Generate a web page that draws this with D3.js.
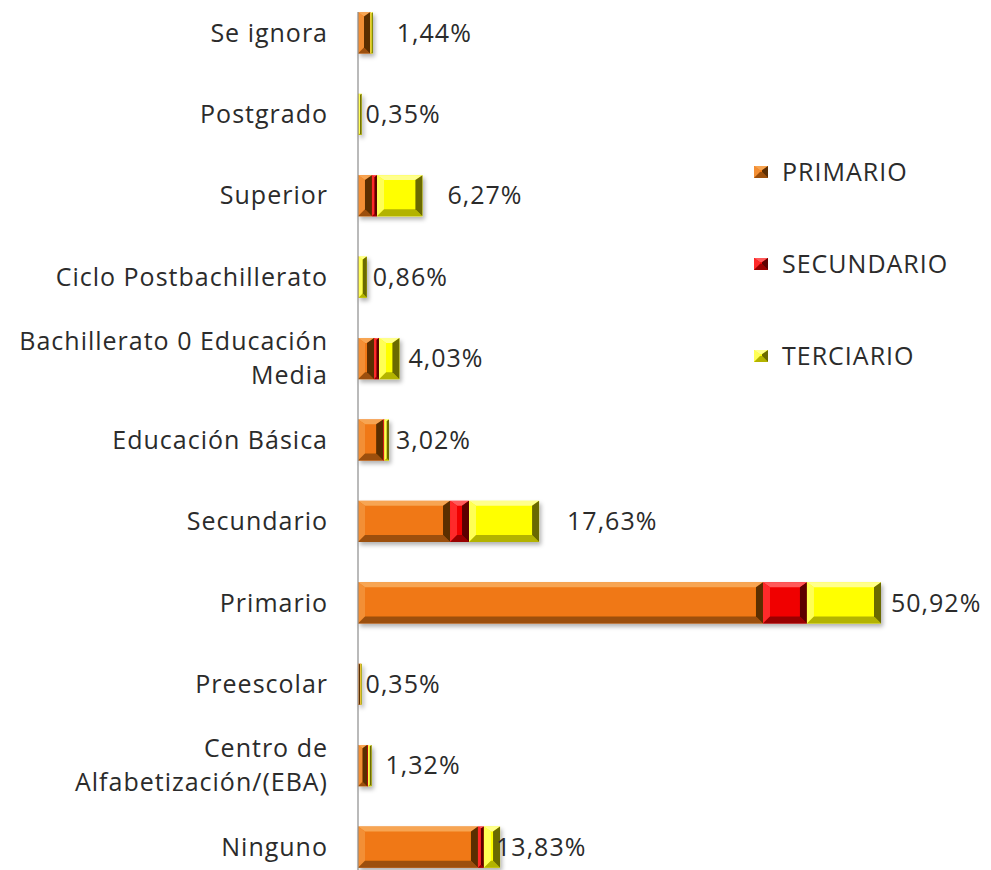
<!DOCTYPE html>
<html>
<head>
<meta charset="utf-8">
<script src="https://cdn.jsdelivr.net/npm/d3@7"></script>
<style>
  body { margin: 0; background: #fff; }
  svg text { font-family: "Open Sans", sans-serif; fill: #2b2b2b; font-size: 25px; letter-spacing: 1px; }
</style>
</head>
<body>
<svg id="chart" width="991" height="870"></svg>
<script>
// data, top row first
var categories = ["Se ignora", "Postgrado", "Superior", "Ciclo Postbachillerato",
  "Bachillerato 0 Educación|Media", "Educación Básica", "Secundario", "Primario",
  "Preescolar", "Centro de|Alfabetización/(EBA)", "Ninguno"];
var primario   = [1.17, 0.05, 1.36, 0.06, 1.56, 2.45, 8.96, 39.43, 0.20, 0.88, 11.68];
var secundario = [0.05, 0.00, 0.49, 0.00, 0.49, 0.12, 1.85, 4.28, 0.05, 0.10, 0.58];
var terciario  = [0.22, 0.30, 4.42, 0.80, 1.98, 0.45, 6.82, 7.21, 0.10, 0.34, 1.57];
var totals     = [1.44, 0.35, 6.27, 0.86, 4.03, 3.02, 17.63, 50.92, 0.35, 1.32, 13.83];
var seriesNames = ["PRIMARIO", "SECUNDARIO", "TERCIARIO"];
// label x nudges (px after bar end), as placed in the original
var labelNudge = [24, 4, 25, 6, 9, 7, 28, 10, 4, 14, -4];

var colors = {
  PRIMARIO:   {face: "#f07812", top: "#f7a552", left: "#f38f34", bottom: "#9c4f0a", right: "#5a2e04"},
  SECUNDARIO: {face: "#f00000", top: "#ff5a5a", left: "#ff2a2a", bottom: "#990000", right: "#5c0000"},
  TERCIARIO:  {face: "#ffff00", top: "#ffff8c", left: "#ffff55", bottom: "#b3b300", right: "#6b6b00"}
};

var rows = categories.map(function(c, i) {
  return {cat: c, PRIMARIO: primario[i], SECUNDARIO: secundario[i], TERCIARIO: terciario[i], total: totals[i], i: i};
});

var svg = d3.select("#chart");
var x0 = 358;

var x = d3.scaleLinear().domain([0, 50.92]).range([x0, 881]);
var y = d3.scaleBand().domain(categories).range([-8, 888]).paddingInner(0.495).paddingOuter(0.25);

var defs = svg.append("defs");
var f = defs.append("filter").attr("id", "shadow").attr("x", "-10%").attr("y", "-20%").attr("width", "130%").attr("height", "160%");
f.append("feDropShadow").attr("dx", 2).attr("dy", 3).attr("stdDeviation", 2).attr("flood-color", "#000").attr("flood-opacity", 0.3);

var stack = d3.stack().keys(seriesNames);
var stacked = stack(rows);

function bevel(g, xa, xb, ya, yb, c) {
  var w = xb - xa, h = yb - ya;
  var b = Math.min(7, w / 2, h / 2);
  var pts = function(a) { return a.map(function(p) { return p.join(","); }).join(" "); };
  g.append("rect").attr("x", xa).attr("y", ya).attr("width", w).attr("height", h).attr("fill", c.face);
  g.append("polygon").attr("points", pts([[xa, ya], [xb, ya], [xb - b, ya + b * 0.7], [xa + b, ya + b * 0.7]])).attr("fill", c.top);
  g.append("polygon").attr("points", pts([[xa, ya], [xa + b, ya + b * 0.7], [xa + b, yb - b], [xa, yb]])).attr("fill", c.left);
  g.append("polygon").attr("points", pts([[xa, yb], [xa + b, yb - b], [xb - b, yb - b], [xb, yb]])).attr("fill", c.bottom);
  g.append("polygon").attr("points", pts([[xb, ya], [xb - b, ya + b * 0.7], [xb - b, yb - b], [xb, yb]])).attr("fill", c.right);
}

var barsG = svg.append("g").attr("filter", "url(#shadow)");
stacked.forEach(function(layer) {
  layer.forEach(function(d) {
    var xa = x(d[0]), xb = x(d[1]);
    if (xb - xa < 0.3) return;
    bevel(barsG.append("g"), xa, xb, y(d.data.cat), y(d.data.cat) + y.bandwidth(), colors[layer.key]);
  });
});

// axis line
svg.append("line").attr("x1", x0).attr("x2", x0).attr("y1", 12).attr("y2", 870)
  .attr("stroke", "#8c8c8c").attr("stroke-width", 1.2);

// category labels
rows.forEach(function(r) {
  var lines = r.cat.split("|");
  var cy = y(r.cat) + y.bandwidth() / 2;
  var t = svg.append("text").attr("x", 328).attr("text-anchor", "end");
  lines.forEach(function(l, k) {
    t.append("tspan").attr("x", 328)
      .attr("y", cy + (k - (lines.length - 1) / 2) * 34)
      .attr("dy", "0.35em").text(l);
  });
});

// value labels
rows.forEach(function(r) {
  svg.append("text")
    .attr("x", x(r.total) + labelNudge[r.i])
    .attr("y", y(r.cat) + y.bandwidth() / 2)
    .attr("dy", "0.35em")
    .text(d3.format(".2f")(r.total).replace(".", ",") + "%");
});

// legend
var lg = svg.append("g");
seriesNames.forEach(function(s, i) {
  var ly = 172 + i * 92;
  bevel(lg.append("g"), 754, 768, ly - 6, ly + 6, colors[s]);
  lg.append("text").attr("x", 782).attr("y", ly).attr("dy", "0.35em").text(s);
});
</script>
</body>
</html>
